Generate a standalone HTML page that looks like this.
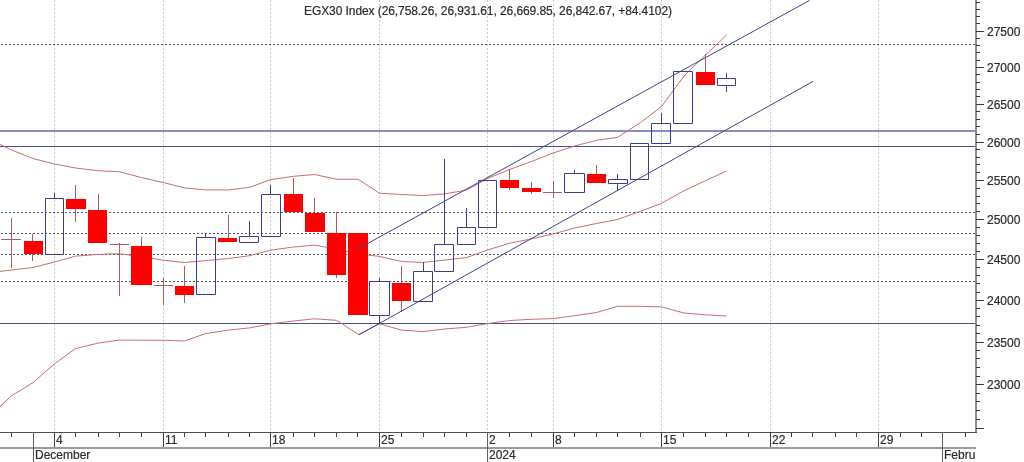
<!DOCTYPE html>
<html><head><meta charset="utf-8"><title>EGX30</title>
<style>html,body{margin:0;padding:0;background:#fff;width:1024px;height:462px;overflow:hidden;position:relative;font-family:"Liberation Sans",sans-serif}</style>
</head><body>
<svg width="1024" height="462" viewBox="0 0 1024 462" style="position:absolute;left:0;top:0;will-change:transform">
<rect x="0" y="0" width="1024" height="462" fill="#fff"/>
<line x1="54.5" y1="0" x2="54.5" y2="432" stroke="#cbcbd0" stroke-width="1" stroke-dasharray="2 2" shape-rendering="crispEdges"/>
<line x1="163.5" y1="0" x2="163.5" y2="432" stroke="#cbcbd0" stroke-width="1" stroke-dasharray="2 2" shape-rendering="crispEdges"/>
<line x1="270.5" y1="0" x2="270.5" y2="432" stroke="#cbcbd0" stroke-width="1" stroke-dasharray="2 2" shape-rendering="crispEdges"/>
<line x1="379.5" y1="0" x2="379.5" y2="432" stroke="#cbcbd0" stroke-width="1" stroke-dasharray="2 2" shape-rendering="crispEdges"/>
<line x1="487.5" y1="0" x2="487.5" y2="432" stroke="#cbcbd0" stroke-width="1" stroke-dasharray="2 2" shape-rendering="crispEdges"/>
<line x1="553.5" y1="0" x2="553.5" y2="432" stroke="#cbcbd0" stroke-width="1" stroke-dasharray="2 2" shape-rendering="crispEdges"/>
<line x1="661.5" y1="0" x2="661.5" y2="432" stroke="#cbcbd0" stroke-width="1" stroke-dasharray="2 2" shape-rendering="crispEdges"/>
<line x1="770.5" y1="0" x2="770.5" y2="432" stroke="#cbcbd0" stroke-width="1" stroke-dasharray="2 2" shape-rendering="crispEdges"/>
<line x1="878.5" y1="0" x2="878.5" y2="432" stroke="#cbcbd0" stroke-width="1" stroke-dasharray="2 2" shape-rendering="crispEdges"/>
<line x1="0" y1="44.5" x2="976" y2="44.5" stroke="#52526a" stroke-width="1" stroke-dasharray="2 2" stroke-dashoffset="3" shape-rendering="crispEdges"/>
<line x1="0" y1="212.5" x2="976" y2="212.5" stroke="#52526a" stroke-width="1" stroke-dasharray="2 2" stroke-dashoffset="3" shape-rendering="crispEdges"/>
<line x1="0" y1="233.5" x2="976" y2="233.5" stroke="#52526a" stroke-width="1" stroke-dasharray="2 2" stroke-dashoffset="3" shape-rendering="crispEdges"/>
<line x1="0" y1="254.5" x2="976" y2="254.5" stroke="#52526a" stroke-width="1" stroke-dasharray="2 2" stroke-dashoffset="3" shape-rendering="crispEdges"/>
<line x1="0" y1="281.5" x2="976" y2="281.5" stroke="#52526a" stroke-width="1" stroke-dasharray="2 2" stroke-dashoffset="3" shape-rendering="crispEdges"/>
<rect x="0" y="130" width="976" height="2" fill="#8c8cc4"/>
<rect x="0" y="146" width="976" height="1" fill="#4c4c90"/>
<rect x="0" y="323" width="976" height="1" fill="#4c4c90"/>
<polyline points="0,144.4 11.5,150 33,158.5 54.5,164 75.5,168 98.5,170.8 119.5,171.7 141.5,177.6 163.5,182.6 184.5,187.9 205.5,189.9 228.5,189.9 249.5,187.3 271,179.5 293.5,176.3 314.5,174.5 336.5,179.2 358,179.2 379.5,193.2 401.5,194.5 423.5,195.5 444.5,193.9 466.5,190.1 487.5,178.5 509.5,169.5 531.5,161.5 553.5,152.9 574.5,146 596.5,140.3 617.5,137.4 640.5,122.6 661.5,106.5 684,76 705.5,55 726.5,35" fill="none" stroke="#c86e6e" stroke-width="1"/>
<polyline points="0,271.4 11.5,270 33,267.5 54.5,262 75.5,256.1 98.5,254.4 119.5,253.7 141.5,256.8 163.5,260.2 184.5,262.5 205.5,260.6 228.5,258.6 249.5,255.7 271,250.1 293.5,247 314.5,245.1 336.5,249 358,254 379.5,256.4 401.5,261.5 423.5,262.4 444.5,260.1 466.5,257.6 487.5,250 509.5,243.3 531.5,238.9 553.5,233.9 574.5,228 596.5,223.5 617.5,219.5 640.5,211.3 661.5,203.3 684,190.7 705.5,180.7 726.5,171" fill="none" stroke="#c86e6e" stroke-width="1"/>
<polyline points="0,406.5 11.5,395.8 33,382.6 54.5,363.8 75.5,348.6 98.5,343 119.5,340.1 141.5,340.2 163.5,340.3 184.5,341 205.5,333.6 228.5,330.1 249.5,327.9 271,323.8 293.5,321 314.5,318.8 336.5,320.3 358.5,334.5 379.5,323.8 401.5,330.1 423.5,331.6 444.5,329 466.5,327.3 487.5,323.6 509.5,320.5 531.5,319.3 553.5,318.6 574.5,315.7 596.5,312.5 617.5,306.3 640.5,306.3 661.5,306.9 684,313 705.5,314.8 726.5,316" fill="none" stroke="#c86e6e" stroke-width="1"/>
<rect x="11" y="218" width="1" height="50" fill="#ac5c64"/>
<rect x="1" y="239" width="20" height="1" fill="#ac5c64"/>
<rect x="32" y="234" width="1" height="7" fill="#ac5c64"/>
<rect x="32" y="254" width="1" height="7" fill="#ac5c64"/>
<rect x="24" y="241" width="19" height="13" fill="#ff0000"/>
<rect x="54" y="193" width="1" height="5" fill="#3e3e88"/>
<path d="M45.5,198.5H63.5V254.5H45.5Z" fill="none" stroke="#3e3e88" stroke-width="1"/>
<rect x="75" y="185" width="1" height="14" fill="#ac5c64"/>
<rect x="75" y="209" width="1" height="13" fill="#ac5c64"/>
<rect x="66" y="199" width="20" height="10" fill="#ff0000"/>
<rect x="98" y="194" width="1" height="16" fill="#ac5c64"/>
<rect x="88" y="210" width="19" height="33" fill="#ff0000"/>
<rect x="119" y="243" width="1" height="53" fill="#ac5c64"/>
<rect x="110" y="244" width="19" height="1" fill="#ac5c64"/>
<rect x="141" y="237" width="1" height="9" fill="#ac5c64"/>
<rect x="131" y="246" width="21" height="39" fill="#ff0000"/>
<rect x="163" y="278" width="1" height="27" fill="#ac5c64"/>
<rect x="154" y="285" width="19" height="1" fill="#ac5c64"/>
<rect x="184" y="266" width="1" height="20" fill="#ac5c64"/>
<rect x="184" y="295" width="1" height="8" fill="#ac5c64"/>
<rect x="175" y="286" width="19" height="9" fill="#ff0000"/>
<rect x="205" y="233" width="1" height="4" fill="#3e3e88"/>
<path d="M196.5,237.5H215.5V294.5H196.5Z" fill="none" stroke="#3e3e88" stroke-width="1"/>
<rect x="228" y="215" width="1" height="23" fill="#ac5c64"/>
<rect x="218" y="238" width="19" height="4" fill="#ff0000"/>
<rect x="249" y="221" width="1" height="15" fill="#3e3e88"/>
<path d="M239.5,236.5H258.5V242.5H239.5Z" fill="none" stroke="#3e3e88" stroke-width="1"/>
<rect x="270" y="185" width="1" height="9" fill="#3e3e88"/>
<path d="M261.5,194.5H280.5V236.5H261.5Z" fill="none" stroke="#3e3e88" stroke-width="1"/>
<rect x="293" y="178" width="1" height="16" fill="#ac5c64"/>
<rect x="284" y="194" width="19" height="18" fill="#ff0000"/>
<rect x="314" y="198" width="1" height="15" fill="#ac5c64"/>
<rect x="305" y="213" width="20" height="19" fill="#ff0000"/>
<rect x="336" y="212" width="1" height="21" fill="#ac5c64"/>
<rect x="336" y="275" width="1" height="3" fill="#ac5c64"/>
<rect x="327" y="233" width="19" height="42" fill="#ff0000"/>
<rect x="348" y="233" width="20" height="82" fill="#ff0000"/>
<rect x="379" y="278" width="1" height="3" fill="#3e3e88"/>
<rect x="379" y="316" width="1" height="8" fill="#3e3e88"/>
<path d="M369.5,281.5H389.5V315.5H369.5Z" fill="none" stroke="#3e3e88" stroke-width="1"/>
<rect x="401" y="266" width="1" height="17" fill="#ac5c64"/>
<rect x="401" y="301" width="1" height="11" fill="#ac5c64"/>
<rect x="392" y="283" width="19" height="18" fill="#ff0000"/>
<rect x="423" y="262" width="1" height="9" fill="#3e3e88"/>
<path d="M413.5,271.5H432.5V301.5H413.5Z" fill="none" stroke="#3e3e88" stroke-width="1"/>
<rect x="444" y="159" width="1" height="85" fill="#3e3e88"/>
<path d="M434.5,244.5H453.5V271.5H434.5Z" fill="none" stroke="#3e3e88" stroke-width="1"/>
<rect x="466" y="208" width="1" height="19" fill="#3e3e88"/>
<path d="M457.5,227.5H475.5V244.5H457.5Z" fill="none" stroke="#3e3e88" stroke-width="1"/>
<path d="M478.5,180.5H496.5V227.5H478.5Z" fill="none" stroke="#3e3e88" stroke-width="1"/>
<rect x="509" y="169" width="1" height="11" fill="#ac5c64"/>
<rect x="509" y="188" width="1" height="2" fill="#ac5c64"/>
<rect x="500" y="180" width="19" height="8" fill="#ff0000"/>
<rect x="531" y="182" width="1" height="6" fill="#ac5c64"/>
<rect x="531" y="192" width="1" height="2" fill="#ac5c64"/>
<rect x="522" y="188" width="19" height="4" fill="#ff0000"/>
<rect x="553" y="181" width="1" height="17" fill="#ac5c64"/>
<rect x="543" y="192" width="19" height="1" fill="#ac5c64"/>
<rect x="574" y="170" width="1" height="3" fill="#3e3e88"/>
<path d="M564.5,173.5H584.5V192.5H564.5Z" fill="none" stroke="#3e3e88" stroke-width="1"/>
<rect x="596" y="165" width="1" height="9" fill="#ac5c64"/>
<rect x="587" y="174" width="19" height="9" fill="#ff0000"/>
<rect x="617" y="174" width="1" height="5" fill="#3e3e88"/>
<rect x="617" y="184" width="1" height="7" fill="#3e3e88"/>
<path d="M608.5,179.5H627.5V183.5H608.5Z" fill="none" stroke="#3e3e88" stroke-width="1"/>
<path d="M630.5,143.5H648.5V179.5H630.5Z" fill="none" stroke="#3e3e88" stroke-width="1"/>
<rect x="661" y="113" width="1" height="10" fill="#3e3e88"/>
<path d="M651.5,123.5H670.5V143.5H651.5Z" fill="none" stroke="#3e3e88" stroke-width="1"/>
<path d="M673.5,71.5H692.5V123.5H673.5Z" fill="none" stroke="#3e3e88" stroke-width="1"/>
<rect x="705" y="54" width="1" height="18" fill="#ac5c64"/>
<rect x="696" y="72" width="19" height="13" fill="#ff0000"/>
<rect x="726" y="73" width="1" height="5" fill="#3e3e88"/>
<rect x="726" y="86" width="1" height="6" fill="#3e3e88"/>
<path d="M717.5,78.5H735.5V85.5H717.5Z" fill="none" stroke="#3e3e88" stroke-width="1"/>
<line x1="357.5" y1="249.1" x2="809.5" y2="0.4" stroke="#44448a" stroke-width="1"/>
<line x1="359" y1="334.8" x2="813" y2="81.4" stroke="#44448a" stroke-width="1"/>
<rect x="975" y="0" width="2" height="433" fill="#8c8c8c"/>
<rect x="0" y="432" width="977" height="1" fill="#505050"/>
<rect x="0" y="447" width="976" height="2" fill="#9c9c9c"/>
<rect x="976" y="428" width="8" height="1" fill="#383838"/>
<rect x="976" y="419" width="4" height="1" fill="#383838"/>
<rect x="976" y="410" width="4" height="1" fill="#383838"/>
<rect x="976" y="401" width="4" height="1" fill="#383838"/>
<rect x="976" y="393" width="4" height="1" fill="#383838"/>
<rect x="976" y="384" width="8" height="1" fill="#383838"/>
<text x="987" y="389" font-family="Liberation Sans, sans-serif" font-size="12" fill="#2c2c2c" stroke="#2c2c2c" stroke-width="0.2">23000</text>
<rect x="976" y="376" width="4" height="1" fill="#383838"/>
<rect x="976" y="367" width="4" height="1" fill="#383838"/>
<rect x="976" y="358" width="4" height="1" fill="#383838"/>
<rect x="976" y="350" width="4" height="1" fill="#383838"/>
<rect x="976" y="342" width="8" height="1" fill="#383838"/>
<text x="987" y="347" font-family="Liberation Sans, sans-serif" font-size="12" fill="#2c2c2c" stroke="#2c2c2c" stroke-width="0.2">23500</text>
<rect x="976" y="333" width="4" height="1" fill="#383838"/>
<rect x="976" y="325" width="4" height="1" fill="#383838"/>
<rect x="976" y="316" width="4" height="1" fill="#383838"/>
<rect x="976" y="308" width="4" height="1" fill="#383838"/>
<rect x="976" y="300" width="8" height="1" fill="#383838"/>
<text x="987" y="305" font-family="Liberation Sans, sans-serif" font-size="12" fill="#2c2c2c" stroke="#2c2c2c" stroke-width="0.2">24000</text>
<rect x="976" y="292" width="4" height="1" fill="#383838"/>
<rect x="976" y="283" width="4" height="1" fill="#383838"/>
<rect x="976" y="275" width="4" height="1" fill="#383838"/>
<rect x="976" y="267" width="4" height="1" fill="#383838"/>
<rect x="976" y="259" width="8" height="1" fill="#383838"/>
<text x="987" y="264" font-family="Liberation Sans, sans-serif" font-size="12" fill="#2c2c2c" stroke="#2c2c2c" stroke-width="0.2">24500</text>
<rect x="976" y="251" width="4" height="1" fill="#383838"/>
<rect x="976" y="243" width="4" height="1" fill="#383838"/>
<rect x="976" y="235" width="4" height="1" fill="#383838"/>
<rect x="976" y="227" width="4" height="1" fill="#383838"/>
<rect x="976" y="219" width="8" height="1" fill="#383838"/>
<text x="987" y="224" font-family="Liberation Sans, sans-serif" font-size="12" fill="#2c2c2c" stroke="#2c2c2c" stroke-width="0.2">25000</text>
<rect x="976" y="211" width="4" height="1" fill="#383838"/>
<rect x="976" y="203" width="4" height="1" fill="#383838"/>
<rect x="976" y="196" width="4" height="1" fill="#383838"/>
<rect x="976" y="188" width="4" height="1" fill="#383838"/>
<rect x="976" y="180" width="8" height="1" fill="#383838"/>
<text x="987" y="185" font-family="Liberation Sans, sans-serif" font-size="12" fill="#2c2c2c" stroke="#2c2c2c" stroke-width="0.2">25500</text>
<rect x="976" y="172" width="4" height="1" fill="#383838"/>
<rect x="976" y="164" width="4" height="1" fill="#383838"/>
<rect x="976" y="157" width="4" height="1" fill="#383838"/>
<rect x="976" y="149" width="4" height="1" fill="#383838"/>
<rect x="976" y="142" width="8" height="1" fill="#383838"/>
<text x="987" y="147" font-family="Liberation Sans, sans-serif" font-size="12" fill="#2c2c2c" stroke="#2c2c2c" stroke-width="0.2">26000</text>
<rect x="976" y="134" width="4" height="1" fill="#383838"/>
<rect x="976" y="126" width="4" height="1" fill="#383838"/>
<rect x="976" y="119" width="4" height="1" fill="#383838"/>
<rect x="976" y="111" width="4" height="1" fill="#383838"/>
<rect x="976" y="104" width="8" height="1" fill="#383838"/>
<text x="987" y="109" font-family="Liberation Sans, sans-serif" font-size="12" fill="#2c2c2c" stroke="#2c2c2c" stroke-width="0.2">26500</text>
<rect x="976" y="96" width="4" height="1" fill="#383838"/>
<rect x="976" y="89" width="4" height="1" fill="#383838"/>
<rect x="976" y="82" width="4" height="1" fill="#383838"/>
<rect x="976" y="74" width="4" height="1" fill="#383838"/>
<rect x="976" y="67" width="8" height="1" fill="#383838"/>
<text x="987" y="72" font-family="Liberation Sans, sans-serif" font-size="12" fill="#2c2c2c" stroke="#2c2c2c" stroke-width="0.2">27000</text>
<rect x="976" y="60" width="4" height="1" fill="#383838"/>
<rect x="976" y="52" width="4" height="1" fill="#383838"/>
<rect x="976" y="45" width="4" height="1" fill="#383838"/>
<rect x="976" y="38" width="4" height="1" fill="#383838"/>
<rect x="976" y="31" width="8" height="1" fill="#383838"/>
<text x="987" y="36" font-family="Liberation Sans, sans-serif" font-size="12" fill="#2c2c2c" stroke="#2c2c2c" stroke-width="0.2">27500</text>
<rect x="976" y="23" width="4" height="1" fill="#383838"/>
<rect x="976" y="16" width="4" height="1" fill="#383838"/>
<rect x="976" y="9" width="4" height="1" fill="#383838"/>
<rect x="976" y="2" width="4" height="1" fill="#383838"/>
<rect x="11" y="433" width="1" height="4" fill="#404040"/>
<rect x="33" y="432" width="1" height="30" fill="#606060"/>
<rect x="54" y="432" width="1" height="15" fill="#404040"/>
<rect x="75" y="433" width="1" height="4" fill="#404040"/>
<rect x="98" y="433" width="1" height="4" fill="#404040"/>
<rect x="119" y="433" width="1" height="4" fill="#404040"/>
<rect x="141" y="433" width="1" height="4" fill="#404040"/>
<rect x="163" y="432" width="1" height="15" fill="#404040"/>
<rect x="184" y="433" width="1" height="4" fill="#404040"/>
<rect x="205" y="433" width="1" height="4" fill="#404040"/>
<rect x="228" y="433" width="1" height="4" fill="#404040"/>
<rect x="249" y="433" width="1" height="4" fill="#404040"/>
<rect x="270" y="432" width="1" height="15" fill="#404040"/>
<rect x="293" y="433" width="1" height="4" fill="#404040"/>
<rect x="314" y="433" width="1" height="4" fill="#404040"/>
<rect x="336" y="433" width="1" height="4" fill="#404040"/>
<rect x="357" y="433" width="1" height="4" fill="#404040"/>
<rect x="379" y="432" width="1" height="15" fill="#404040"/>
<rect x="401" y="433" width="1" height="4" fill="#404040"/>
<rect x="423" y="433" width="1" height="4" fill="#404040"/>
<rect x="444" y="433" width="1" height="4" fill="#404040"/>
<rect x="466" y="433" width="1" height="4" fill="#404040"/>
<rect x="487" y="432" width="1" height="30" fill="#606060"/>
<rect x="509" y="433" width="1" height="4" fill="#404040"/>
<rect x="531" y="433" width="1" height="4" fill="#404040"/>
<rect x="553" y="432" width="1" height="15" fill="#404040"/>
<rect x="574" y="433" width="1" height="4" fill="#404040"/>
<rect x="596" y="433" width="1" height="4" fill="#404040"/>
<rect x="617" y="433" width="1" height="4" fill="#404040"/>
<rect x="640" y="433" width="1" height="4" fill="#404040"/>
<rect x="661" y="432" width="1" height="15" fill="#404040"/>
<rect x="683" y="433" width="1" height="4" fill="#404040"/>
<rect x="705" y="433" width="1" height="4" fill="#404040"/>
<rect x="726" y="433" width="1" height="4" fill="#404040"/>
<rect x="748" y="433" width="1" height="4" fill="#404040"/>
<rect x="770" y="432" width="1" height="15" fill="#404040"/>
<rect x="791" y="433" width="1" height="4" fill="#404040"/>
<rect x="812" y="433" width="1" height="4" fill="#404040"/>
<rect x="835" y="433" width="1" height="4" fill="#404040"/>
<rect x="856" y="433" width="1" height="4" fill="#404040"/>
<rect x="878" y="432" width="1" height="15" fill="#404040"/>
<rect x="900" y="433" width="1" height="4" fill="#404040"/>
<rect x="921" y="433" width="1" height="4" fill="#404040"/>
<rect x="942" y="432" width="1" height="30" fill="#606060"/>
<rect x="965" y="433" width="1" height="4" fill="#404040"/>
<text x="56" y="444" font-family="Liberation Sans, sans-serif" font-size="12" fill="#2c2c2c" stroke="#2c2c2c" stroke-width="0.2">4</text>
<text x="165" y="444" font-family="Liberation Sans, sans-serif" font-size="12" fill="#2c2c2c" stroke="#2c2c2c" stroke-width="0.2">11</text>
<text x="272" y="444" font-family="Liberation Sans, sans-serif" font-size="12" fill="#2c2c2c" stroke="#2c2c2c" stroke-width="0.2">18</text>
<text x="381" y="444" font-family="Liberation Sans, sans-serif" font-size="12" fill="#2c2c2c" stroke="#2c2c2c" stroke-width="0.2">25</text>
<text x="489" y="444" font-family="Liberation Sans, sans-serif" font-size="12" fill="#2c2c2c" stroke="#2c2c2c" stroke-width="0.2">2</text>
<text x="555" y="444" font-family="Liberation Sans, sans-serif" font-size="12" fill="#2c2c2c" stroke="#2c2c2c" stroke-width="0.2">8</text>
<text x="663" y="444" font-family="Liberation Sans, sans-serif" font-size="12" fill="#2c2c2c" stroke="#2c2c2c" stroke-width="0.2">15</text>
<text x="772" y="444" font-family="Liberation Sans, sans-serif" font-size="12" fill="#2c2c2c" stroke="#2c2c2c" stroke-width="0.2">22</text>
<text x="880" y="444" font-family="Liberation Sans, sans-serif" font-size="12" fill="#2c2c2c" stroke="#2c2c2c" stroke-width="0.2">29</text>
<clipPath id="cl"><rect x="0" y="449" width="976" height="13"/></clipPath>
<text x="35" y="459" font-family="Liberation Sans, sans-serif" font-size="12" fill="#2c2c2c" stroke="#2c2c2c" stroke-width="0.2" clip-path="url(#cl)">December</text>
<text x="489" y="459" font-family="Liberation Sans, sans-serif" font-size="12" fill="#2c2c2c" stroke="#2c2c2c" stroke-width="0.2" clip-path="url(#cl)">2024</text>
<text x="944" y="459" font-family="Liberation Sans, sans-serif" font-size="12" fill="#2c2c2c" stroke="#2c2c2c" stroke-width="0.2" clip-path="url(#cl)">Febru</text>
<text x="304" y="15" font-family="Liberation Sans, sans-serif" font-size="12" fill="#2c2c2c" stroke="#2c2c2c" stroke-width="0.2" textLength="368" lengthAdjust="spacing">EGX30 Index (26,758.26, 26,931.61, 26,669.85, 26,842.67, +84.4102)</text>
</svg>
</body></html>
